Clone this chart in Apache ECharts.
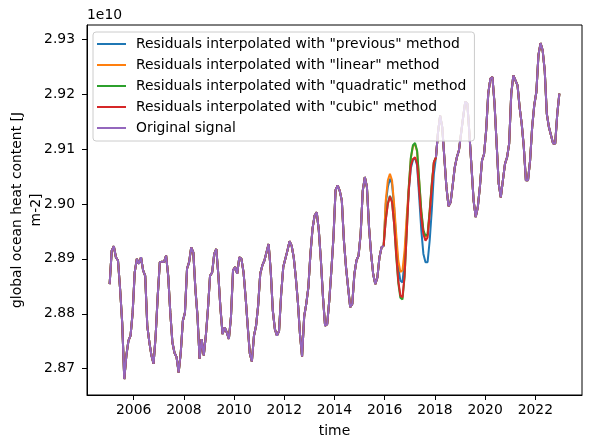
<!DOCTYPE html>
<html>
<head>
<meta charset="utf-8">
<script src="https://cdn.jsdelivr.net/npm/echarts@6/dist/echarts.min.js"></script>
<style>
html, body { margin: 0; padding: 0; background: #fff; }
#chart { width: 592px; height: 448px; }
</style>
</head>
<body>
<div id="chart"></div>
<script>
// monthly values, units of 1e10 J m-2, first month = Jan 2005
const startYear = 2005;
const gapStart = 132; // first missing month (Jan 2016)

const original = [
  2.8854, 2.8915, 2.8923, 2.8903, 2.8897, 2.8845, 2.8784, 2.8681, 2.8724, 2.8751, 2.8760, 2.8802,
  2.8876, 2.8900, 2.8891, 2.8903, 2.8879, 2.8869, 2.8778, 2.8748, 2.8724, 2.8709, 2.8760, 2.8833,
  2.8894, 2.8895, 2.8894, 2.8906, 2.8869, 2.8802, 2.8748, 2.8729, 2.8721, 2.8693, 2.8729, 2.8787,
  2.8802, 2.8882, 2.8894, 2.8921, 2.8912, 2.8845, 2.8796, 2.8718, 2.8754, 2.8724, 2.8760, 2.8809,
  2.8869, 2.8875, 2.8909, 2.8918, 2.8869, 2.8809, 2.8763, 2.8775, 2.8766, 2.8754, 2.8794, 2.8879,
  2.8885, 2.8873, 2.8903, 2.8900, 2.8876, 2.8830, 2.8778, 2.8728, 2.8713, 2.8760, 2.8778, 2.8815,
  2.8873, 2.8888, 2.8897, 2.8912, 2.8927, 2.8879, 2.8806, 2.8772, 2.8760, 2.8769, 2.8836, 2.8885,
  2.8900, 2.8915, 2.8932, 2.8924, 2.8903, 2.8866, 2.8821, 2.8763, 2.8722, 2.8795, 2.8818, 2.8848,
  2.8909, 2.8955, 2.8979, 2.8985, 2.8952, 2.8897, 2.8830, 2.8778, 2.8781, 2.8824, 2.8879, 2.8939,
  2.9025, 2.9034, 2.9024, 2.9006, 2.8933, 2.8885, 2.8848, 2.8812, 2.8818, 2.8872, 2.8897, 2.8906,
  2.8945, 2.9024, 2.9049, 2.9031, 2.8958, 2.8909, 2.8872, 2.8854, 2.8866, 2.8903, 2.8921, 2.8924,
  null, null, null, null, null, null, null, null, null, null, null, null,
  null, null, null, null, null, null, null, null, null, null, null, null,
  2.9085, 2.9131, 2.9161, 2.9140, 2.9085, 2.9031, 2.8996, 2.9003, 2.9034, 2.9067, 2.9085, 2.9098,
  2.9128, 2.9158, 2.9186, 2.9183, 2.9128, 2.9067, 2.9006, 2.8976, 2.8994, 2.9031, 2.9079, 2.9091,
  2.9134, 2.9201, 2.9228, 2.9231, 2.9183, 2.9110, 2.9037, 2.9012, 2.9043, 2.9073, 2.9085, 2.9110,
  2.9201, 2.9234, 2.9225, 2.9216, 2.9176, 2.9146, 2.9104, 2.9043, 2.9043, 2.9079, 2.9140, 2.9180,
  2.9204, 2.9271, 2.9293, 2.9280, 2.9243, 2.9164, 2.9140, 2.9125, 2.9110, 2.9110, 2.9164, 2.9201
];

// reconstructed values inside the gap (Jan 2016 - Dec 2017)
const gapPrevious = [
  2.9000, 2.9031, 2.9046, 2.9037, 2.8994, 2.8933, 2.8885, 2.8860, 2.8857, 2.8897, 2.8964, 2.9024,
  2.9065, 2.9080, 2.9084, 2.9070, 2.9012, 2.8952, 2.8909, 2.8894, 2.8894, 2.8933, 2.8988, 2.9055
];
const gapLinear = [
  2.9006, 2.9043, 2.9055, 2.9043, 2.9000, 2.8945, 2.8897, 2.8876, 2.8879, 2.8915, 2.8976, 2.9029,
  2.9083, 2.9105, 2.9109, 2.9095, 2.9041, 2.8986, 2.8950, 2.8940, 2.8943, 2.8986, 2.9035, 2.9075
];
const gapQuadratic = [
  2.8972, 2.9001, 2.9015, 2.9004, 2.8964, 2.8905, 2.8856, 2.8829, 2.8826, 2.8867, 2.8945, 2.9031,
  2.9085, 2.9107, 2.9111, 2.9097, 2.9043, 2.8988, 2.8952, 2.8942, 2.8945, 2.8988, 2.9037, 2.9076
];
const gapCubic = [
  2.8970, 2.9000, 2.9014, 2.9003, 2.8964, 2.8909, 2.8860, 2.8833, 2.8830, 2.8870, 2.8945, 2.9024,
  2.9070, 2.9082, 2.9085, 2.9073, 2.9024, 2.8976, 2.8945, 2.8933, 2.8939, 2.8982, 2.9031, 2.9076
];

const xTicks = [2006, 2008, 2010, 2012, 2014, 2016, 2018, 2020, 2022];
const yTicks = [2.87, 2.88, 2.89, 2.90, 2.91, 2.92, 2.93];

const FONT = 'DejaVu Sans';
const time = i => startYear + (i + 0.5) / 12;

// fill the gap of the original signal with one method's values
function filled(gap) {
  return original.map((v, i) => {
    const k = i - gapStart;
    return [time(i), k >= 0 && k < gap.length ? gap[k] : v];
  });
}

const seriesDefs = [
  { name: 'Residuals interpolated with "previous" method', color: '#1f77b4', data: filled(gapPrevious) },
  { name: 'Residuals interpolated with "linear" method', color: '#ff7f0e', data: filled(gapLinear) },
  { name: 'Residuals interpolated with "quadratic" method', color: '#2ca02c', data: filled(gapQuadratic) },
  { name: 'Residuals interpolated with "cubic" method', color: '#d62728', data: filled(gapCubic) },
  { name: 'Original signal', color: '#9467bd', data: original.map((v, i) => [time(i), v === null ? '-' : v]) }
];

const chart = echarts.init(document.getElementById('chart'), null, { renderer: 'canvas' });

const axisCommon = {
  axisLine: { show: true, lineStyle: { color: '#000', width: 1 } },
  axisTick: { show: true, length: 5, lineStyle: { color: '#000', width: 1 } },
  splitLine: { show: false },
  nameTextStyle: { color: '#000', fontFamily: FONT, fontSize: 13.9 }
};

const option = {
  animation: false,
  backgroundColor: '#fff',
  textStyle: { fontFamily: FONT },
  grid: {
    left: 87, top: 25, right: 10, bottom: 53,
    outerBoundsMode: 'none',
    show: true, borderColor: '#000', borderWidth: 1
  },
  legend: {
    left: 93,
    top: 32,
    orient: 'vertical',
    icon: 'rect',
    itemWidth: 29,
    itemHeight: 2,
    itemGap: 7,
    padding: [5, 8, 6, 4],
    backgroundColor: 'rgba(255,255,255,0.8)',
    borderColor: '#cccccc',
    borderWidth: 1,
    borderRadius: 3,
    textStyle: { color: '#000', fontFamily: FONT, fontSize: 13.9, lineHeight: 14, padding: [0, 0, 0, 5] },
    data: seriesDefs.map(s => s.name)
  },
  xAxis: Object.assign({}, axisCommon, {
    type: 'value',
    min: 2004.14,
    max: 2023.86,
    name: 'time',
    nameLocation: 'middle',
    nameGap: 29,
    axisTick: Object.assign({}, axisCommon.axisTick, { customValues: xTicks }),
    axisLabel: {
      customValues: xTicks, color: '#000', fontFamily: FONT, fontSize: 13.9, margin: 8,
      formatter: v => String(Math.round(v))
    }
  }),
  yAxis: Object.assign({}, axisCommon, {
    type: 'value',
    min: 2.8652,
    max: 2.9326,
    axisTick: Object.assign({}, axisCommon.axisTick, { customValues: yTicks }),
    axisLabel: {
      customValues: yTicks, color: '#000', fontFamily: FONT, fontSize: 13.9, margin: 12,
      formatter: v => v.toFixed(2)
    }
  }),
  graphic: [{
    type: 'text',
    left: 87,
    top: 8,
    style: { text: '1e10', font: '13.9px "DejaVu Sans"', fill: '#000' }
  }, {
    // y axis title, two lines, reading bottom to top
    type: 'text',
    x: 27,
    y: 210,
    rotation: Math.PI / 2,
    style: {
      text: 'global ocean heat content [J\nm-2]',
      font: '13.9px "DejaVu Sans"',
      fill: '#000',
      align: 'center',
      verticalAlign: 'middle',
      lineHeight: 19
    }
  }],
  series: seriesDefs.map(s => ({
    name: s.name,
    type: 'line',
    symbol: 'none',
    connectNulls: false,
    itemStyle: { color: s.color },
    lineStyle: { color: s.color, width: 2 },
    data: s.data
  }))
};

chart.setOption(option);
</script>
</body>
</html>
